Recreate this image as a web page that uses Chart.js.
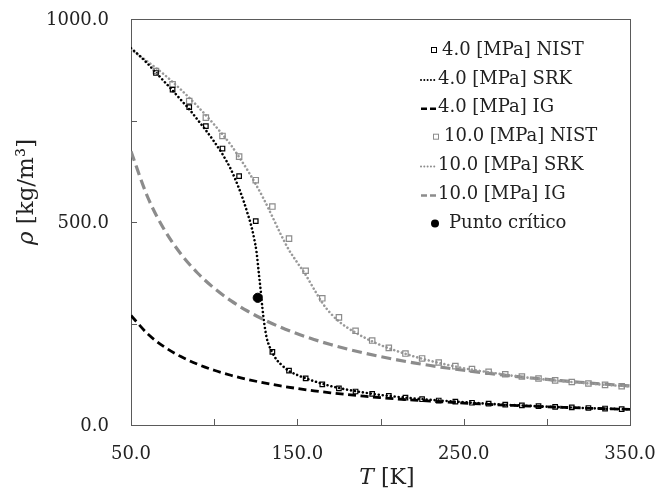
<!DOCTYPE html>
<html>
<head>
<meta charset="utf-8">
<script src="https://cdn.jsdelivr.net/npm/chart.js@4"></script>
<style>
  html, body { margin: 0; padding: 0; background: #fff; }
  #wrap { width: 658px; height: 498px; }
</style>
</head>
<body>
<div id="wrap"><canvas id="chart" width="658" height="498"></canvas></div>
<script>
// NIST reference points (K, kg/m3)
const tNist = [65, 75, 85, 95, 105, 115, 125, 135, 145, 155, 165, 175, 185, 195, 205,
               215, 225, 235, 245, 255, 265, 275, 285, 295, 305, 315, 325, 335, 345];
const rhoNist4 = [867, 826, 783, 736, 681, 613, 502, 180, 134, 115, 100, 90, 82.5, 76.5, 71.5,
                  67.3, 63.5, 60.3, 57.4, 54.8, 52.4, 50.3, 48.3, 46.5, 44.8, 43.3, 41.9, 40.6, 39.3];
const rhoNist10 = [872, 839, 798, 757, 712, 661, 603, 538, 459, 380, 312, 265, 232, 208, 190,
                   176, 164, 154, 145, 138, 131, 125, 119.5, 114.5, 110, 106, 102.3, 98.8, 95.6];

// SRK curves
const tSrk4 = [50, 55, 60, 65, 70, 75, 80, 85, 90, 95, 100, 105, 110, 115, 118, 120, 122, 124,
               125.5, 127, 128, 129, 130, 131.5, 133, 135, 137.5, 140, 145, 150, 155, 160, 170,
               180, 190, 200, 220, 240, 260, 280, 300, 320, 350];
const rhoSrk4 = [928, 910, 890, 868, 846, 824, 801, 778, 752, 726, 698, 667, 630, 582, 548, 522, 495, 460,
                 425, 368, 330, 288, 254, 216, 196, 178, 161, 150, 133, 123, 115, 108, 96,
                 87, 80, 74, 65.5, 59, 53.5, 49, 45.3, 42.2, 38.5];
const tSrk10 = [50, 60, 70, 80, 90, 100, 110, 115, 120, 125, 130, 135, 140, 145, 150, 155, 160, 165,
                170, 175, 180, 190, 200, 210, 220, 230, 240, 250, 260, 270, 280, 290, 300, 320, 340, 350];
const rhoSrk10 = [925, 895, 863, 826, 785, 740, 690, 660, 628, 593, 555, 513, 470, 431, 400, 370, 335, 301,
                  275, 255, 240, 216, 197, 182, 169, 158, 148.5, 140, 133, 127, 121, 116, 111.5, 104, 97.5, 95];

// ideal gas curves
const tIg = [50, 60, 70, 80, 90, 100, 110, 120, 130, 140, 150, 160, 170, 180, 190, 200,
             210, 220, 230, 240, 250, 260, 270, 280, 290, 300, 310, 320, 330, 340, 350];
const rhoIg4 = [269.6, 224.6, 192.5, 168.5, 149.8, 134.8, 122.5, 112.3, 103.7, 96.3, 89.9, 84.2, 79.3, 74.9, 70.9, 67.4,
                64.2, 61.3, 58.6, 56.2, 53.9, 51.8, 49.9, 48.1, 46.5, 44.9, 43.5, 42.1, 40.8, 39.6, 38.5];
const rhoIg10 = [673.9, 561.6, 481.3, 421.2, 374.4, 336.9, 306.3, 280.8, 259.2, 240.7, 224.6, 210.6, 198.2, 187.2, 177.3, 168.5,
                 160.4, 153.2, 146.5, 140.4, 134.8, 129.6, 124.8, 120.3, 116.2, 112.3, 108.7, 105.3, 102.1, 99.1, 96.3];

// critical point
const tCrit = [126.2];
const rhoCrit = [313.3];

const xLabels = [50, 150, 250, 350];
const yLabels = [0, 500, 1000];

const pts = (xs, ys) => xs.map((x, i) => ({ x: x, y: ys[i] }));

const BLACK = '#000000';
const GREY = '#8c8c8c';
const FONT = 'DejaVu Serif';
const TEXT = '#222';

const lineDs = (label, xs, ys, color, width, dash) => ({
    label: label,
    data: pts(xs, ys),
    showLine: true,
    borderColor: color,
    borderWidth: width,
    borderDash: dash,
    borderCapStyle: dash[0] < 1 ? 'round' : 'butt',
    pointRadius: 0,
    cubicInterpolationMode: 'monotone',
    fill: false,
    order: 2
});

// frame, inward ticks and tick labels
const frame = {
    id: 'frame',
    beforeDatasetsDraw(chart) {
        const { ctx, chartArea: a, scales } = chart;
        ctx.save();
        ctx.strokeStyle = '#5a5a5a';
        ctx.lineWidth = 1;
        ctx.strokeRect(a.left + 0.5, a.top + 0.5, a.right - a.left, a.bottom - a.top);
        ctx.beginPath();
        scales.x.ticks.forEach(t => {
            const px = Math.round(scales.x.getPixelForValue(t.value)) + 0.5;
            ctx.moveTo(px, a.bottom);
            ctx.lineTo(px, a.bottom - 6);
        });
        scales.y.ticks.forEach(t => {
            const py = Math.round(scales.y.getPixelForValue(t.value)) + 0.5;
            ctx.moveTo(a.left, py);
            ctx.lineTo(a.left + 6, py);
        });
        ctx.stroke();

        ctx.fillStyle = TEXT;
        ctx.font = '18px ' + FONT;
        ctx.textBaseline = 'middle';
        ctx.textAlign = 'center';
        xLabels.forEach(v => {
            ctx.fillText(v.toFixed(1), scales.x.getPixelForValue(v), a.bottom + 29);
        });
        ctx.textAlign = 'right';
        yLabels.forEach(v => {
            ctx.fillText(v.toFixed(1), a.left - 22, scales.y.getPixelForValue(v) + 1);
        });
        ctx.restore();
    }
};

const titles = {
    id: 'titles',
    afterDraw(chart) {
        const { ctx } = chart;
        ctx.save();
        ctx.fillStyle = TEXT;
        ctx.textBaseline = 'alphabetic';
        // x title
        const it = 'italic 22px ' + FONT, rg = '22px ' + FONT;
        ctx.font = it; const w1 = ctx.measureText('T').width;
        ctx.font = rg; const w2 = ctx.measureText(' [K]').width;
        let x0 = 387 - (w1 + w2) / 2;
        ctx.font = it; ctx.fillText('T', x0, 484);
        ctx.font = rg; ctx.fillText(' [K]', x0 + w1, 484);
        // y title
        const it2 = 'italic 23px ' + FONT, rg2 = '23px ' + FONT;
        ctx.translate(33, 192);
        ctx.rotate(-Math.PI / 2);
        ctx.font = it2; const v1 = ctx.measureText('ρ').width;
        ctx.font = rg2; const v2 = ctx.measureText(' [kg/m³]').width;
        x0 = -(v1 + v2) / 2;
        ctx.font = it2; ctx.fillText('ρ', x0, 0);
        ctx.font = rg2; ctx.fillText(' [kg/m³]', x0 + v1, 0);
        ctx.restore();
    }
};

const legendRows = [
    { text: '4.0 [MPa] NIST', kind: 'sq', color: BLACK, sx: 434, tx: 442 },
    { text: '4.0 [MPa] SRK', kind: 'dot', color: BLACK, tx: 438 },
    { text: '4.0 [MPa] IG', kind: 'dash', color: BLACK, tx: 438 },
    { text: '10.0 [MPa] NIST', kind: 'sq', color: GREY, sx: 436, tx: 444 },
    { text: '10.0 [MPa] SRK', kind: 'dot', color: GREY, tx: 438 },
    { text: '10.0 [MPa] IG', kind: 'dash', color: GREY, tx: 438 },
    { text: 'Punto crítico', kind: 'circle', color: BLACK, sx: 435, tx: 449 }
];

const legendBox = {
    id: 'legendBox',
    afterDraw(chart) {
        const { ctx } = chart;
        ctx.save();
        ctx.font = '18px ' + FONT;
        ctx.textBaseline = 'middle';
        legendRows.forEach((r, i) => {
            const y = 50 + i * 28.9;
            ctx.strokeStyle = r.color;
            ctx.fillStyle = r.color;
            if (r.kind === 'sq') {
                ctx.lineWidth = 1;
                ctx.strokeRect(r.sx - 2.5, y - 2.5, 5, 5);
            } else if (r.kind === 'circle') {
                ctx.beginPath();
                ctx.arc(r.sx, y, 4, 0, Math.PI * 2);
                ctx.fill();
            } else {
                ctx.beginPath();
                ctx.lineWidth = r.kind === 'dot' ? 2 : 2.6;
                ctx.lineCap = r.kind === 'dot' ? 'round' : 'butt';
                ctx.setLineDash(r.kind === 'dot' ? [0.01, 3.3] : [6, 3]);
                ctx.moveTo(421, y + 1);
                ctx.lineTo(437, y + 1);
                ctx.stroke();
                ctx.setLineDash([]);
            }
            ctx.fillStyle = TEXT;
            ctx.fillText(r.text, r.tx, y);
        });
        ctx.restore();
    }
};

new Chart(document.getElementById('chart'), {
    type: 'scatter',
    data: {
        datasets: [
            {
                label: 'Punto crítico',
                data: pts(tCrit, rhoCrit),
                pointStyle: 'circle',
                pointRadius: 4.6,
                backgroundColor: BLACK,
                borderColor: BLACK,
                order: 0
            },
            {
                label: '4.0 [MPa] NIST',
                data: pts(tNist, rhoNist4),
                pointStyle: 'rect',
                pointRadius: 3.2,
                borderWidth: 1.2,
                borderColor: BLACK,
                backgroundColor: 'rgba(255,255,255,0)',
                order: 0
            },
            {
                label: '10.0 [MPa] NIST',
                data: pts(tNist, rhoNist10),
                pointStyle: 'rect',
                pointRadius: 3.8,
                borderWidth: 1.2,
                borderColor: GREY,
                backgroundColor: 'rgba(255,255,255,0)',
                order: 1
            },
            lineDs('4.0 [MPa] SRK', tSrk4, rhoSrk4, BLACK, 2.6, [0.01, 4]),
            lineDs('4.0 [MPa] IG', tIg, rhoIg4, BLACK, 2.8, [8, 4.5]),
            lineDs('10.0 [MPa] SRK', tSrk10, rhoSrk10, '#9a9a9a', 2.6, [0.01, 4]),
            lineDs('10.0 [MPa] IG', tIg, rhoIg10, GREY, 3.2, [10, 5])
        ]
    },
    options: {
        responsive: false,
        animation: false,
        layout: { padding: { top: 19, right: 28, left: 0, bottom: 0 } },
        plugins: {
            legend: { display: false },
            tooltip: { enabled: false }
        },
        scales: {
            x: {
                type: 'linear',
                min: 50,
                max: 350,
                grid: { display: false, drawTicks: false },
                border: { display: false },
                afterFit: s => { s.height = 73; },
                ticks: { stepSize: 50, display: false }
            },
            y: {
                type: 'linear',
                min: 0,
                max: 1000,
                grid: { display: false, drawTicks: false },
                border: { display: false },
                afterFit: s => { s.width = 131; },
                ticks: { stepSize: 250, display: false }
            }
        }
    },
    plugins: [frame, titles, legendBox]
});
</script>
</body>
</html>
